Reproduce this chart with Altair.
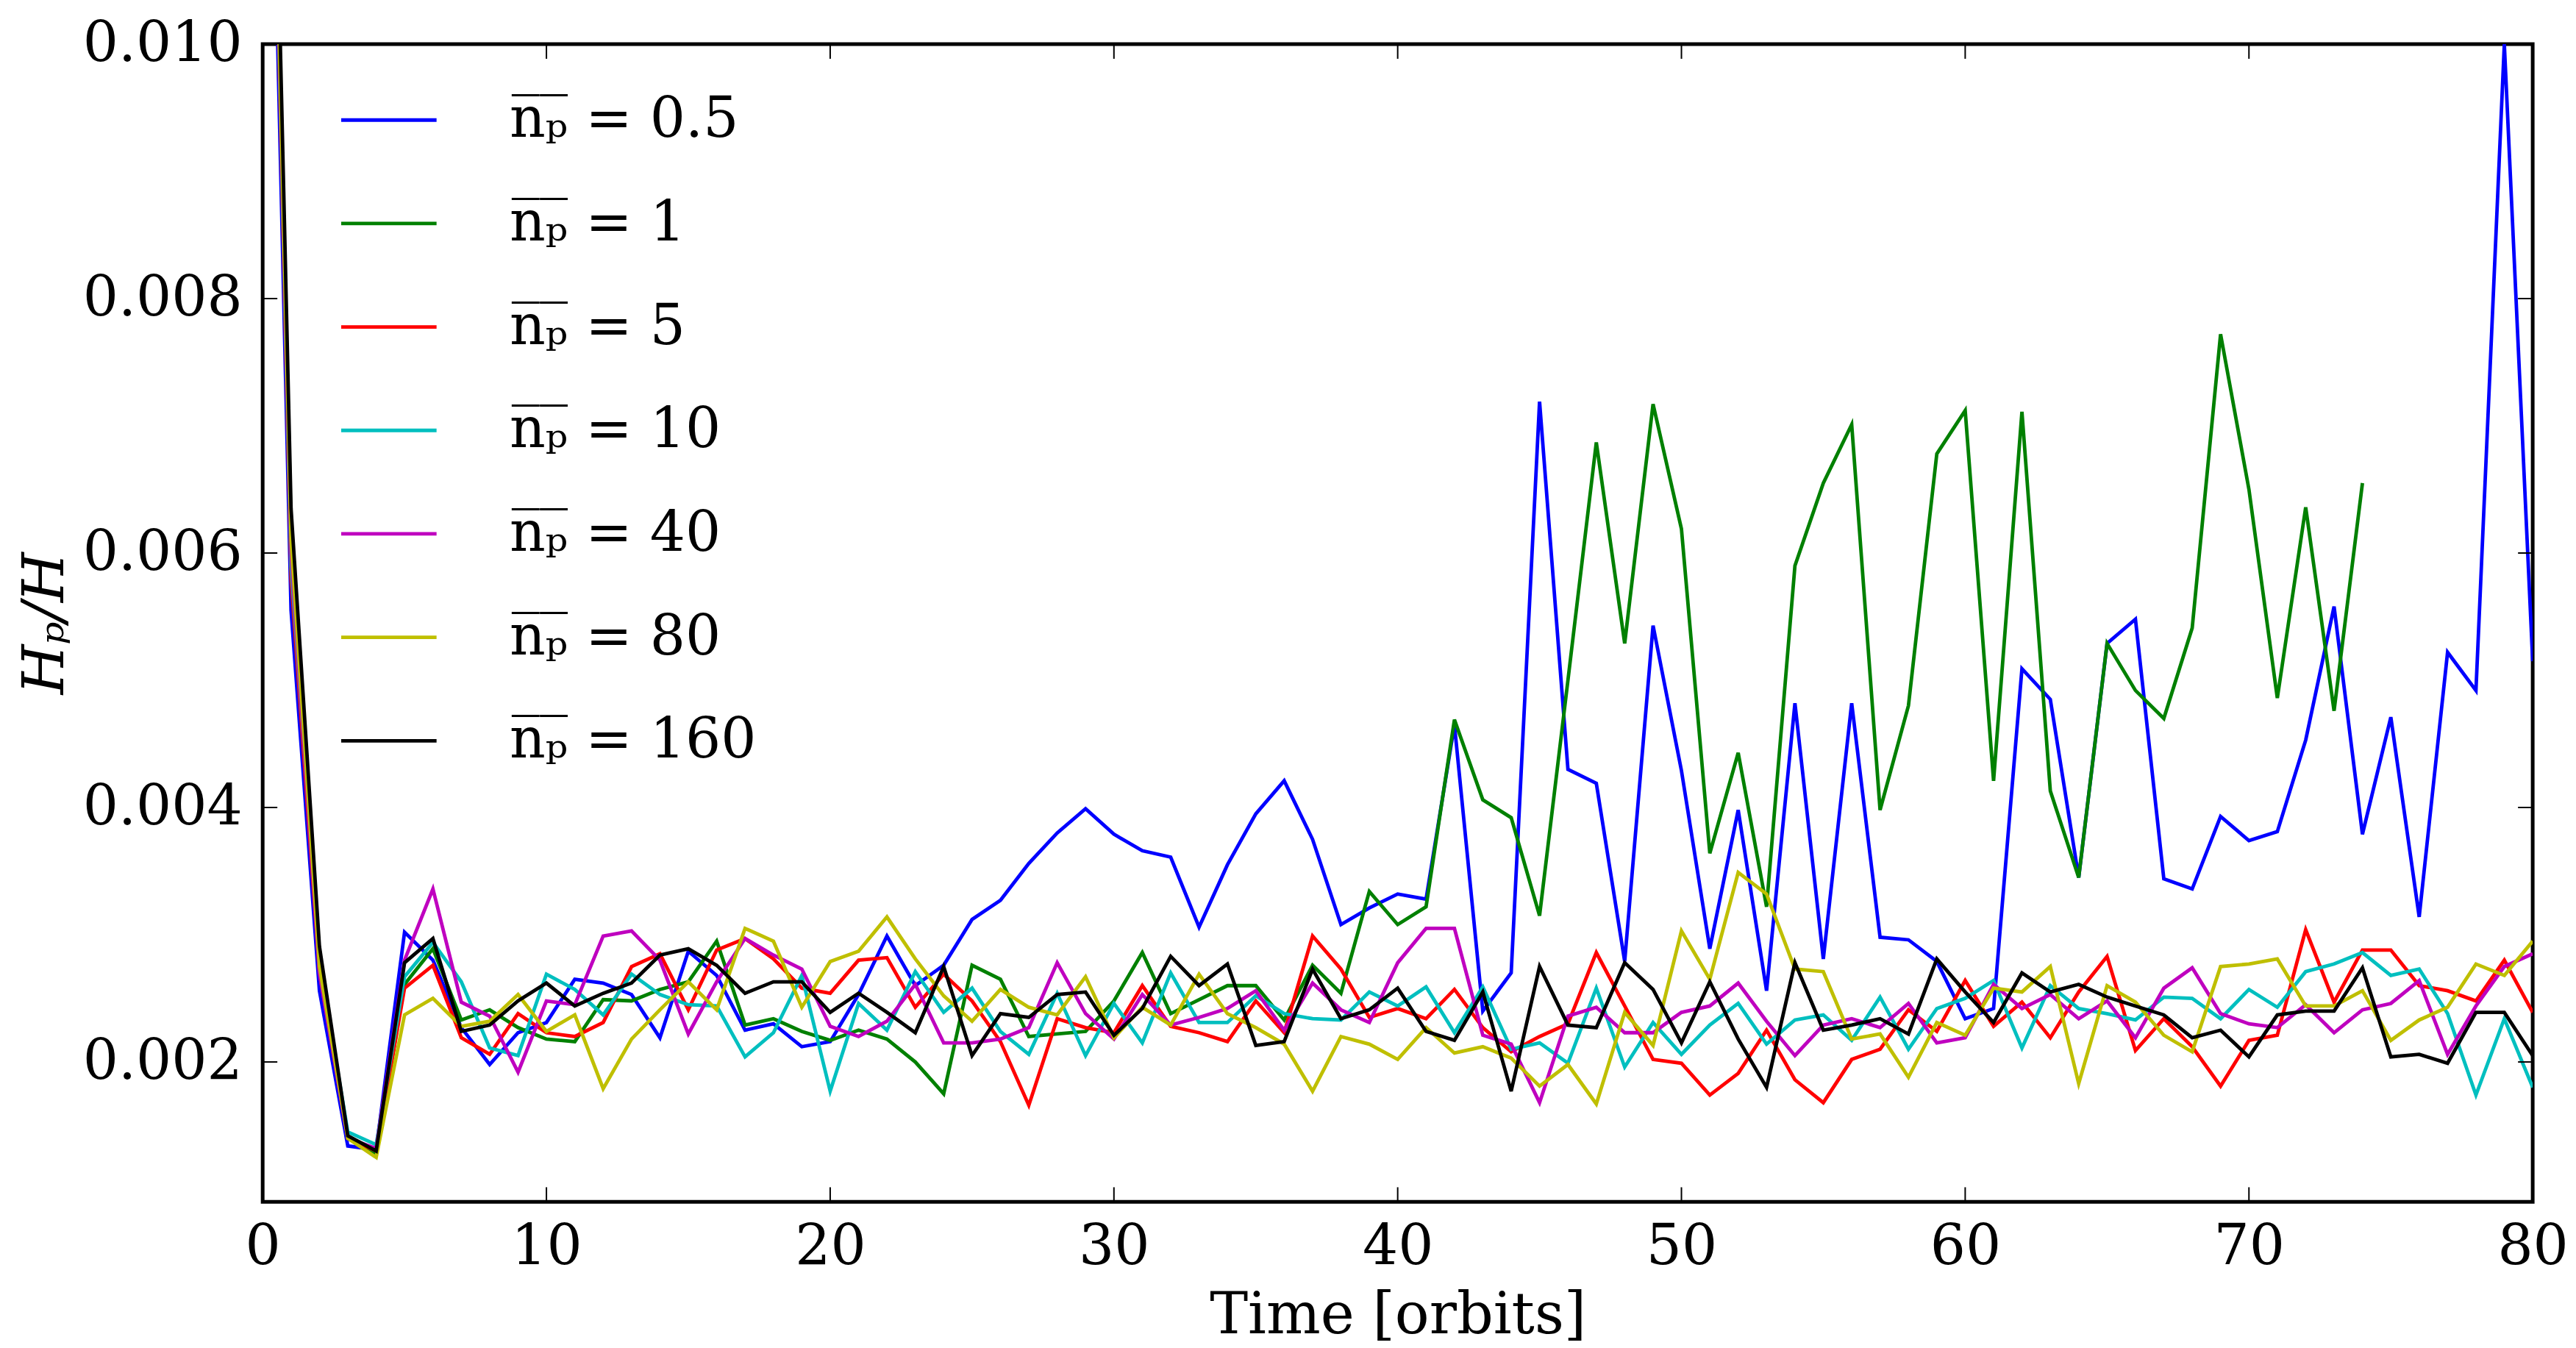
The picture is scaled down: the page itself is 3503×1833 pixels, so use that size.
import altair as alt
import pandas as pd

time = list(range(81))

hp_05 = [0.0150, 0.00555, 0.00256, 0.00134, 0.00131,
         0.00302, 0.00280, 0.00227, 0.00198, 0.00223, 0.00231, 0.00265, 0.00262, 0.00253, 0.00219,
         0.00287, 0.00268, 0.00225, 0.00230, 0.00212, 0.00216, 0.00253, 0.00299, 0.00260, 0.00276,
         0.00312, 0.00327, 0.00356, 0.00380, 0.00399, 0.00379, 0.00366, 0.00361, 0.00306, 0.00355,
         0.00395, 0.00421, 0.00375, 0.00308, 0.00321, 0.00332, 0.00328, 0.00465, 0.00240, 0.00270,
         0.00719, 0.00430, 0.00419, 0.00279, 0.00543, 0.00429, 0.00289, 0.00398, 0.00256, 0.00482,
         0.00281, 0.00482, 0.00298, 0.00296, 0.00279, 0.00234, 0.00242, 0.00509, 0.00485, 0.00345,
         0.00529, 0.00548, 0.00344, 0.00336, 0.00393, 0.00374, 0.00381, 0.00453, 0.00558, 0.00379,
         0.00471, 0.00314, 0.00522, 0.00492, 0.01000, 0.00515]

hp_1 = [0.0155, 0.0062, 0.00285, 0.0014, 0.00128,
        0.00261, 0.00289, 0.00233, 0.00241, 0.00227, 0.00218, 0.00216, 0.00249, 0.00248, 0.00257,
        0.00263, 0.00295, 0.00229, 0.00234, 0.00224, 0.00217, 0.00225, 0.00218, 0.00200, 0.00175,
        0.00276, 0.00265, 0.00220, 0.00222, 0.00224, 0.00248, 0.00286, 0.00238, 0.00249, 0.00260,
        0.00260, 0.00233, 0.00276, 0.00254, 0.00334, 0.00308, 0.00322, 0.00469, 0.00406, 0.00392,
        0.00315, 0.00500, 0.00687, 0.00529, 0.00717, 0.00619, 0.00364, 0.00443, 0.00322, 0.00590,
        0.00655, 0.00701, 0.00398, 0.00480, 0.00678, 0.00712, 0.00421, 0.00711, 0.00413, 0.00345,
        0.00529, 0.00492, 0.00470, 0.00541, 0.00772, 0.00650, 0.00486, 0.00636, 0.00476, 0.00655]

hp_5 = [0.0155, 0.0058, 0.0027, 0.0014, 0.0013,
        0.00258, 0.00276, 0.00219, 0.00206, 0.00238, 0.00223, 0.00220, 0.00231, 0.00275, 0.00285,
        0.00241, 0.00288, 0.00297, 0.00281, 0.00258, 0.00254, 0.00280, 0.00282, 0.00243, 0.00269,
        0.00248, 0.00216, 0.00166, 0.00234, 0.00227, 0.00223, 0.00260, 0.00228, 0.00223, 0.00216,
        0.00248, 0.00223, 0.00299, 0.00273, 0.00235, 0.00242, 0.00234, 0.00257, 0.00227, 0.00208,
        0.00220, 0.00230, 0.00286, 0.00244, 0.00202, 0.00199, 0.00174, 0.00191, 0.00225, 0.00186,
        0.00168, 0.00202, 0.00210, 0.00241, 0.00224, 0.00264, 0.00228, 0.00247, 0.00219, 0.00255,
        0.00283, 0.00209, 0.00234, 0.00212, 0.00181, 0.00217, 0.00221, 0.00304, 0.00247, 0.00288,
        0.00288, 0.00260, 0.00256, 0.00248, 0.00280, 0.00239]

hp_10 = [0.0155, 0.0059, 0.0028, 0.00145, 0.00135,
         0.00267, 0.00294, 0.00263, 0.00211, 0.00205, 0.00269, 0.00257, 0.00237, 0.00269, 0.00253,
         0.00245, 0.00244, 0.00204, 0.00223, 0.00268, 0.00177, 0.00246, 0.00225, 0.00271, 0.00239,
         0.00258, 0.00224, 0.00206, 0.00254, 0.00205, 0.00246, 0.00215, 0.00270, 0.00231, 0.00231,
         0.00252, 0.00238, 0.00234, 0.00233, 0.00255, 0.00244, 0.00259, 0.00223, 0.00259, 0.00210,
         0.00215, 0.00199, 0.00258, 0.00196, 0.00231, 0.00206, 0.00229, 0.00246, 0.00214, 0.00233,
         0.00237, 0.00217, 0.00251, 0.00210, 0.00242, 0.00250, 0.00264, 0.00211, 0.00260, 0.00242,
         0.00238, 0.00233, 0.00251, 0.00250, 0.00234, 0.00257, 0.00243, 0.00271, 0.00277, 0.00286,
         0.00268, 0.00273, 0.00238, 0.00174, 0.00234, 0.00180]

hp_40 = [0.0155, 0.0060, 0.0027, 0.0014, 0.00132,
         0.00280, 0.00336, 0.00247, 0.00236, 0.00192, 0.00248, 0.00245, 0.00299, 0.00303, 0.00280,
         0.00222, 0.00263, 0.00297, 0.00284, 0.00273, 0.00228, 0.00220, 0.00232, 0.00261, 0.00215,
         0.00215, 0.00218, 0.00227, 0.00278, 0.00238, 0.00218, 0.00253, 0.00229, 0.00235, 0.00242,
         0.00256, 0.00225, 0.00262, 0.00241, 0.00231, 0.00278, 0.00305, 0.00305, 0.00221, 0.00214,
         0.00168, 0.00236, 0.00243, 0.00223, 0.00223, 0.00239, 0.00244, 0.00262, 0.00232, 0.00205,
         0.00229, 0.00234, 0.00227, 0.00246, 0.00215, 0.00219, 0.00261, 0.00242, 0.00253, 0.00234,
         0.00248, 0.00219, 0.00258, 0.00274, 0.00238, 0.00230, 0.00227, 0.00245, 0.00223, 0.00241,
         0.00246, 0.00264, 0.00206, 0.00244, 0.00275, 0.00285]

hp_80 = [0.0155, 0.0061, 0.00275, 0.0014, 0.00125,
         0.00237, 0.00250, 0.00228, 0.00232, 0.00253, 0.00224, 0.00237, 0.00179, 0.00218, 0.00241,
         0.00263, 0.00241, 0.00305, 0.00295, 0.00243, 0.00279, 0.00287, 0.00314, 0.00281, 0.00252,
         0.00232, 0.00257, 0.00243, 0.00237, 0.00267, 0.00219, 0.00243, 0.00229, 0.00269, 0.00238,
         0.00227, 0.00214, 0.00177, 0.00220, 0.00214, 0.00202, 0.00227, 0.00207, 0.00212, 0.00203,
         0.00181, 0.00198, 0.00167, 0.00239, 0.00213, 0.00303, 0.00265, 0.00349, 0.00332, 0.00273,
         0.00271, 0.00218, 0.00222, 0.00188, 0.00231, 0.00221, 0.00258, 0.00255, 0.00275, 0.00183,
         0.00260, 0.00247, 0.00221, 0.00208, 0.00275, 0.00277, 0.00281, 0.00244, 0.00244, 0.00256,
         0.00217, 0.00233, 0.00243, 0.00277, 0.00268, 0.00295]

hp_160 = [0.0160, 0.00635, 0.00291, 0.00142, 0.0013,
          0.00278, 0.00297, 0.00224, 0.00229, 0.00248, 0.00262, 0.00244, 0.00254, 0.00262, 0.00284,
          0.00289, 0.00276, 0.00254, 0.00263, 0.00263, 0.00239, 0.00254, 0.00239, 0.00223, 0.00275,
          0.00205, 0.00238, 0.00235, 0.00253, 0.00255, 0.00221, 0.00242, 0.00283, 0.00260, 0.00277,
          0.00213, 0.00216, 0.00273, 0.00234, 0.00241, 0.00258, 0.00224, 0.00217, 0.00255, 0.00177,
          0.00275, 0.00229, 0.00227, 0.00278, 0.00257, 0.00215, 0.00263, 0.00218, 0.00180, 0.00278,
          0.00225, 0.00229, 0.00234, 0.00222, 0.00281, 0.00255, 0.00231, 0.00270, 0.00255, 0.00261,
          0.00251, 0.00244, 0.00237, 0.00219, 0.00225, 0.00204, 0.00237, 0.00240, 0.00240, 0.00274,
          0.00204, 0.00206, 0.00199, 0.00239, 0.00239, 0.00205]

labels = ["n\u0305\u209a\u0305 = 0.5", "n\u0305\u209a\u0305 = 1", "n\u0305\u209a\u0305 = 5",
          "n\u0305\u209a\u0305 = 10", "n\u0305\u209a\u0305 = 40", "n\u0305\u209a\u0305 = 80",
          "n\u0305\u209a\u0305 = 160"]
colors = ["#0000ff", "#008000", "#ff0000", "#00bfbf", "#bf00bf", "#bfbf00", "#000000"]
series = [hp_05, hp_1, hp_5, hp_10, hp_40, hp_80, hp_160]

x_ticks = [0, 10, 20, 30, 40, 50, 60, 70, 80]
y_ticks = [0.002, 0.004, 0.006, 0.008, 0.010]
x_domain = [0, 80]
y_domain = [0.0009, 0.010]

rows = []
for lab, vals in zip(labels, series):
    for t, v in zip(time, vals):
        rows.append({"time": t, "hp": v, "series": lab})
df = pd.DataFrame(rows)

W, H = 3094, 1578
xscale = alt.Scale(domain=x_domain, nice=False, zero=False)
yscale = alt.Scale(domain=y_domain, nice=False, zero=False)

x_axis = alt.Axis(values=x_ticks, title="Time [orbits]", format="d",
                  labelPadding=24, titleY=179, titleX=W / 2,
                  titleBaseline="alphabetic", titleAlign="center")
y_axis = alt.Axis(values=y_ticks, format=".3f", title="H\u209a/H",
                  labelPadding=28, titleAngle=270, titleX=-272, titleY=H / 2,
                  titleBaseline="alphabetic", titleAlign="center",
                  titleFontStyle="italic")


def xenc():
    return alt.X("time:Q", scale=xscale, axis=x_axis, title="Time [orbits]")


def yenc():
    return alt.Y("hp:Q", scale=yscale, axis=y_axis, title="H\u209a/H")


lines = alt.Chart(df).mark_line(strokeWidth=4.8, clip=True).encode(
    x=xenc(),
    y=yenc(),
    color=alt.Color("series:N", sort=labels,
                    scale=alt.Scale(domain=labels, range=colors),
                    legend=alt.Legend(title=None, orient="none", legendX=104.5, legendY=36,
                                      symbolType="stroke", symbolSize=16900,
                                      symbolStrokeWidth=4.8, labelFont="DejaVu Serif",
                                      labelFontSize=76, labelOffset=97, rowPadding=35,
                                      padding=0, labelLimit=0, labelColor="black")),
)

tick_len = 20
bottom_df = pd.DataFrame({"time": x_ticks, "hp": [y_domain[0]] * len(x_ticks)})
top_df = pd.DataFrame({"time": x_ticks, "hp": [y_domain[1]] * len(x_ticks)})
left_df = pd.DataFrame({"time": [x_domain[0]] * len(y_ticks), "hp": y_ticks})
right_df = pd.DataFrame({"time": [x_domain[1]] * len(y_ticks), "hp": y_ticks})


def ticks(data, orient, xo, yo):
    return alt.Chart(data).mark_tick(orient=orient, size=tick_len, thickness=2,
                                     color="black", xOffset=xo, yOffset=yo, opacity=1).encode(
        x=xenc(),
        y=yenc(),
    )


chart = alt.layer(
    lines,
    ticks(bottom_df, "vertical", 0, -tick_len / 2),
    ticks(top_df, "vertical", 0, tick_len / 2),
    ticks(left_df, "horizontal", tick_len / 2, 0),
    ticks(right_df, "horizontal", -tick_len / 2, 0),
).properties(
    width=W, height=H,
    autosize=alt.AutoSizeParams(type="none"),
    padding={"left": 350, "top": 50, "right": 51, "bottom": 197},
    background="white",
).configure_view(
    stroke="black", strokeWidth=5
).configure_axis(
    ticks=False, domain=False, grid=False,
    labelFont="DejaVu Serif", labelFontSize=76, labelColor="black", labelLimit=0,
    titleFont="DejaVu Serif", titleFontSize=78, titleFontWeight="normal", titleColor="black",
    titleLimit=0,
    labelOverlap=False, labelFlush=False, labelBound=False,
)

chart.save("out.html", embed_options={"renderer": "svg", "actions": False})
